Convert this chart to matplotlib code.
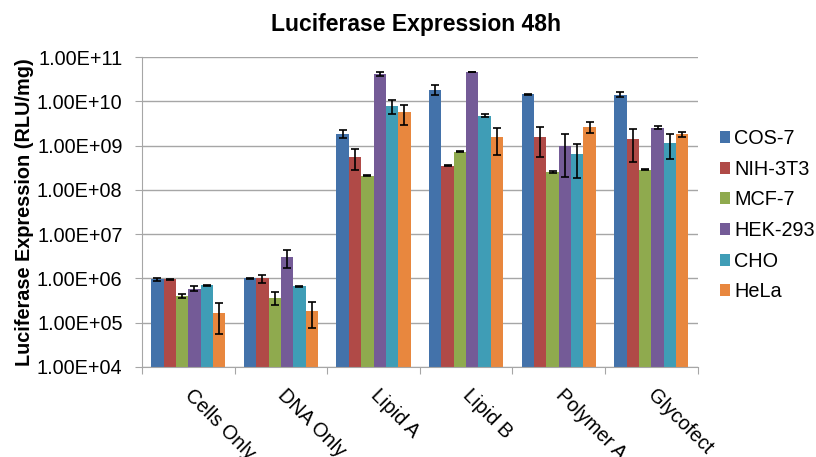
import matplotlib
matplotlib.use('Agg')
import matplotlib.pyplot as plt
import numpy as np
from matplotlib.ticker import FixedLocator, FuncFormatter, NullLocator

plt.rcParams['font.family'] = ['Liberation Sans', 'DejaVu Sans']

grupos = ['Cells Only', 'DNA Only', 'Lipid A', 'Lipid B', 'Polymer A', 'Glycofect']
lineas = ['COS-7', 'NIH-3T3', 'MCF-7', 'HEK-293', 'CHO', 'HeLa']
colores = ['#4372AA', '#B04A47', '#8FAA4E', '#745B97', '#3F9DB6', '#E8873E']

# valores medios (RLU/mg) por linea celular, en el orden de 'grupos'
cos7 = [9.5e5, 1.0e6, 1.8e9, 1.83e10, 1.46e10, 1.39e10]
nih3t3 = [9.5e5, 1.0e6, 5.5e8, 3.5e8, 1.57e9, 1.41e9]
mcf7 = [4.0e5, 3.7e5, 2.1e8, 7.3e8, 2.55e8, 2.88e8]
hek293 = [5.8e5, 3.1e6, 4.07e10, 4.6e10, 1.0e9, 2.55e9]
cho = [6.95e5, 6.6e5, 7.85e9, 4.67e9, 6.5e8, 1.15e9]
hela = [1.65e5, 1.83e5, 5.65e9, 1.57e9, 2.64e9, 1.8e9]

# extremos de las barras de error (inferior, superior)
cos7_lo = [8.9e5, 0.98e6, 1.49e9, 1.37e10, 1.43e10, 1.23e10]
cos7_hi = [1.05e6, 1.02e6, 2.2e9, 2.4e10, 1.49e10, 1.66e10]
nih3t3_lo = [9.3e5, 7.8e5, 2.8e8, 3.4e8, 5.5e8, 4.35e8]
nih3t3_hi = [9.7e5, 1.17e6, 8.4e8, 3.6e8, 2.6e9, 2.33e9]
mcf7_lo = [3.67e5, 2.5e5, 2.05e8, 7.1e8, 2.4e8, 2.8e8]
mcf7_hi = [4.5e5, 5.0e5, 2.15e8, 7.5e8, 2.7e8, 2.96e8]
hek293_lo = [5.1e5, 1.74e6, 3.7e10, 4.6e10, 1.93e8, 2.33e9]
hek293_hi = [6.6e5, 4.4e6, 4.5e10, 4.6e10, 1.83e9, 2.8e9]
cho_lo = [6.8e5, 6.4e5, 5.3e9, 4.36e9, 1.83e8, 5.0e8]
cho_hi = [7.1e5, 6.8e5, 1.05e10, 5.08e9, 1.11e9, 1.83e9]
hela_lo = [5.5e4, 7.7e4, 3.0e9, 6.05e8, 1.9e9, 1.54e9]
hela_hi = [2.8e5, 2.9e5, 8.3e9, 2.55e9, 3.36e9, 2.07e9]

series = [
    (cos7, cos7_lo, cos7_hi),
    (nih3t3, nih3t3_lo, nih3t3_hi),
    (mcf7, mcf7_lo, mcf7_hi),
    (hek293, hek293_lo, hek293_hi),
    (cho, cho_lo, cho_hi),
    (hela, hela_lo, hela_hi),
]

fig = plt.figure(figsize=(8.16, 4.57), dpi=100)
ax = fig.add_axes([0.174, 0.197, 0.681, 0.678])

x = np.arange(len(grupos))
ancho = 1 / 7.5
for i, (vals, lo, hi) in enumerate(series):
    vals = np.array(vals)
    yerr = [vals - np.array(lo), np.array(hi) - vals]
    pos = x - 0.4 + ancho * (i + 0.5)
    ax.bar(pos, vals, width=ancho, color=colores[i], label=lineas[i], zorder=2)
    ax.errorbar(pos, vals, yerr=yerr, fmt='none', ecolor='black',
                elinewidth=1.2, capsize=3, capthick=1.2, zorder=3)

ax.set_yscale('log')
ax.set_ylim(1e4, 1e11)
ax.set_xlim(-0.5, len(grupos) - 0.5)
ax.yaxis.set_major_locator(FixedLocator([10.0 ** k for k in range(4, 12)]))
ax.yaxis.set_minor_locator(NullLocator())
ax.yaxis.set_major_formatter(FuncFormatter(lambda v, p: '1.00E+%02d' % round(np.log10(v))))
ax.grid(axis='y', color='#A6A6A6', linewidth=1, zorder=0)
ax.set_axisbelow(True)

for s in ['top', 'right']:
    ax.spines[s].set_visible(False)
ax.spines['left'].set_color('#A6A6A6')
ax.spines['bottom'].set_color('#A6A6A6')

ax.set_xticks(np.arange(len(grupos) + 1) - 0.5)
ax.set_xticklabels([])
ax.tick_params(axis='x', length=5, color='#A6A6A6', direction='out')
ax.tick_params(axis='y', length=5, color='#A6A6A6', labelsize=14.3, pad=9)

for xi, g in zip(x, grupos):
    ax.text(xi + 0.07, -0.06, g, transform=ax.get_xaxis_transform(),
            rotation=-45, ha='left', va='top', rotation_mode='anchor',
            fontsize=14.3)

ax.set_ylabel('Luciferase Expression (RLU/mg)', fontsize=14.3,
              fontweight='bold', labelpad=2)
fig.suptitle('Luciferase Expression 48h', fontsize=16.5, fontweight='bold',
             x=0.51, y=0.972)

ax.legend(loc='center left', bbox_to_anchor=(1.025, 0.49), frameon=False,
          fontsize=14.3, handlelength=0.55, handleheight=0.55, handletextpad=0.2,
          labelspacing=0.59, borderaxespad=0)

fig.savefig('out.png', dpi=100)
